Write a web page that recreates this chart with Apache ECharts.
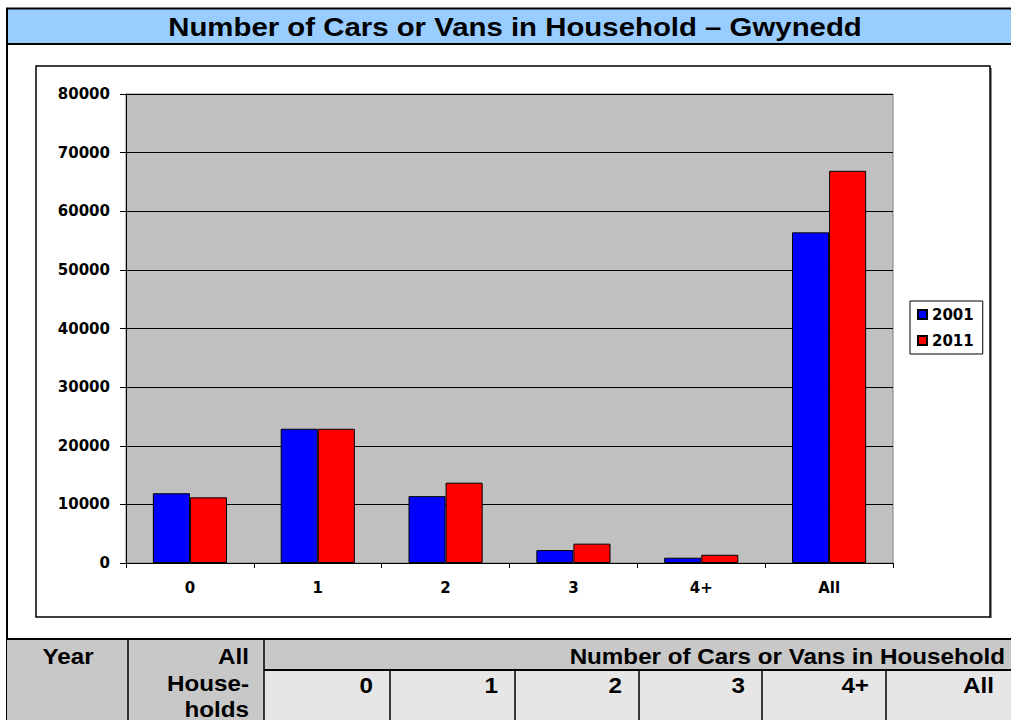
<!DOCTYPE html>
<html>
<head>
<meta charset="utf-8">
<script src="https://cdn.jsdelivr.net/npm/echarts@6/dist/echarts.min.js"></script>
<style>
html,body{margin:0;padding:0;background:#fff;}
#chart{width:1011px;height:720px;}
</style>
</head>
<body>
<div id="chart"></div>
<script>
// ---- data ----
const chartTitle = 'Number of Cars or Vans in Household \u2013 Gwynedd';
const categories = ['0', '1', '2', '3', '4+', 'All'];
const seriesNames = ['2001', '2011'];
const values2001 = [11900, 22900, 11400, 2200, 900, 56400];
const values2011 = [11200, 22900, 13700, 3300, 1400, 66900];
const tableHeaderLeft = ['Year', 'All'];
const tableAllHouseholds = ['House-', 'holds'];
const tableGroupHeader = 'Number of Cars or Vans in Household';
const tableColumns = ['0', '1', '2', '3', '4+', 'All'];

// ---- layout ----
const FONT = "'DejaVu Sans', 'Liberation Sans', sans-serif";
const AFONT = "'Liberation Sans', Arial, sans-serif";
const colEdges = [264, 390, 515, 639, 762, 886, 1011];
const graphics = [];

function txt(s, x, y, align, font, sx) {
  return {type:'text', x:x, y:y, scaleX:sx, scaleY:1, originX:0, originY:0,
    style:{text:s, x:0, y:0, textAlign:align, textVerticalAlign:'middle', font:font, fill:'#000'}, silent:true, z:10};
}

// title bar
graphics.push({type:'rect', shape:{x:7,y:8.5,width:1010,height:35.5}, style:{fill:'#99CCFF', stroke:'#000', lineWidth:2}, silent:true});
graphics.push(txt(chartTitle, 515, 27.5, 'center', 'bold 26px ' + AFONT, 1.13));
// left border
graphics.push({type:'line', shape:{x1:7,y1:8,x2:7,y2:720}, style:{stroke:'#000', lineWidth:2}, silent:true});
// chart frame
graphics.push({type:'line', shape:{x1:991,y1:68,x2:991,y2:618}, style:{stroke:'#888', lineWidth:2}, silent:true});
graphics.push({type:'rect', shape:{x:36,y:66,width:954,height:551}, style:{fill:'none', stroke:'#000', lineWidth:1.5}, silent:true});

// table
graphics.push({type:'rect', shape:{x:7,y:640,width:121,height:80}, style:{fill:'#C8C8C8'}, silent:true});
graphics.push({type:'rect', shape:{x:128,y:640,width:136,height:80}, style:{fill:'#C8C8C8'}, silent:true});
graphics.push({type:'rect', shape:{x:264,y:640,width:747,height:30}, style:{fill:'#C8C8C8'}, silent:true});
graphics.push({type:'rect', shape:{x:264,y:670,width:747,height:50}, style:{fill:'#E6E6E6'}, silent:true});
graphics.push({type:'line', shape:{x1:7,y1:639,x2:1011,y2:639}, style:{stroke:'#000', lineWidth:2}, silent:true});
graphics.push({type:'line', shape:{x1:264,y1:670,x2:1011,y2:670}, style:{stroke:'#000', lineWidth:2}, silent:true});
graphics.push({type:'line', shape:{x1:128,y1:640,x2:128,y2:720}, style:{stroke:'#000', lineWidth:1.5}, silent:true});
graphics.push({type:'line', shape:{x1:264,y1:640,x2:264,y2:720}, style:{stroke:'#000', lineWidth:1.5}, silent:true});
for (let i = 1; i < colEdges.length - 1; i++) {
  graphics.push({type:'line', shape:{x1:colEdges[i],y1:670,x2:colEdges[i],y2:720}, style:{stroke:'#000', lineWidth:1.5}, silent:true});
}
const tfont = 'bold 22px ' + AFONT;
const TS = 1.1;
graphics.push(txt(tableHeaderLeft[0], 68, 656, 'center', tfont, TS));
graphics.push(txt(tableHeaderLeft[1], 249, 656, 'right', tfont, TS));
graphics.push(txt(tableAllHouseholds[0], 249, 683, 'right', tfont, TS));
graphics.push(txt(tableAllHouseholds[1], 249, 709, 'right', tfont, TS));
graphics.push(txt(tableGroupHeader, 1005, 656, 'right', tfont, TS));
tableColumns.forEach(function (c, i) {
  graphics.push(txt(c, colEdges[i+1]-17, 685, 'right', tfont, TS));
});

const chart = echarts.init(document.getElementById('chart'), null, {renderer:'svg'});
chart.setOption({
  backgroundColor:'#ffffff',
  animation:false,
  grid:{left:126, top:94, width:767, height:469, show:true, backgroundColor:'#C0C0C0', borderColor:'#808080', borderWidth:1, containLabel:false},
  legend:{
    data:seriesNames, orient:'vertical', left:910, top:301,
    borderColor:'#000', borderWidth:1, padding:[6,9,6,7], itemGap:11,
    itemWidth:9, itemHeight:9, icon:'rect',
    textStyle:{fontFamily:FONT, fontWeight:'bold', fontSize:15, color:'#000'}
  },
  xAxis:{
    type:'category', data:categories, boundaryGap:true,
    axisLine:{show:true, lineStyle:{color:'#000', width:1}},
    axisTick:{show:true, interval:0, length:5, lineStyle:{color:'#000'}},
    axisLabel:{fontFamily:FONT, fontWeight:'bold', fontSize:15, color:'#000', margin:17}
  },
  yAxis:{
    type:'value', min:0, max:80000, interval:10000,
    axisLine:{show:true, lineStyle:{color:'#000', width:1}},
    axisTick:{show:true, length:6, inside:false, lineStyle:{color:'#000'}},
    axisLabel:{fontFamily:FONT, fontWeight:'bold', fontSize:15, color:'#000', margin:16,
      formatter:function (v) { return String(v); }},
    splitLine:{show:true, lineStyle:{color:'#000', width:1}}
  },
  series:[
    {name:seriesNames[0], type:'bar', data:values2001, barGap:'0%', barCategoryGap:'42%',
     itemStyle:{color:'#0000FF', borderColor:'#000', borderWidth:1}},
    {name:seriesNames[1], type:'bar', data:values2011, barGap:'0%', barCategoryGap:'42%',
     itemStyle:{color:'#FF0000', borderColor:'#000', borderWidth:1}}
  ],
  graphic:graphics
});
</script>
</body>
</html>
